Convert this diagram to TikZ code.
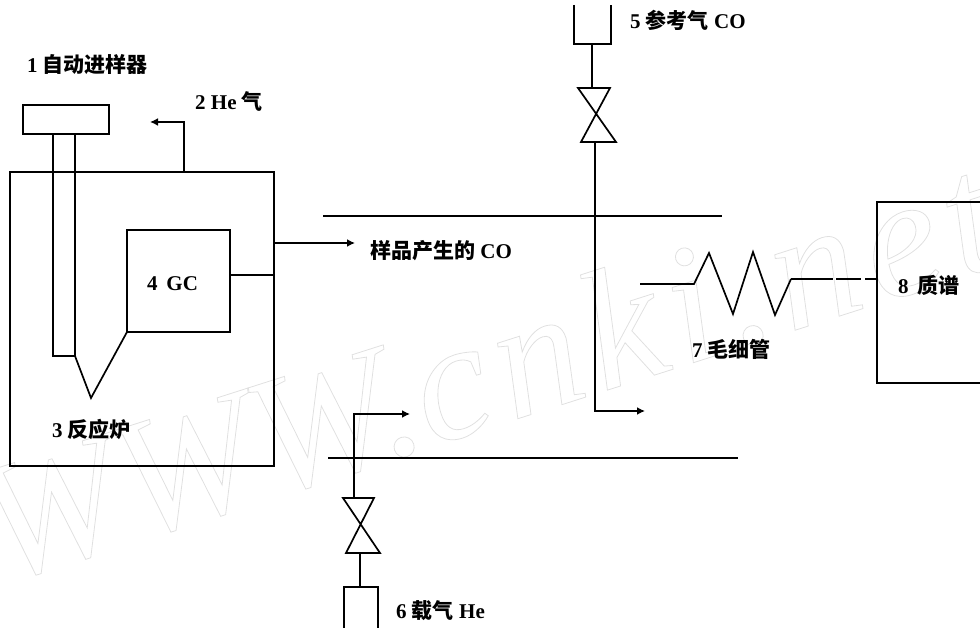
\documentclass[tikz,border=0pt]{standalone}
\usepackage{fontspec}
\setmainfont{Liberation Serif}
\newfontfamily\cjk{Noto Sans CJK SC}
\usetikzlibrary{arrows.meta}
\tikzset{lab/.style={anchor=base west,inner sep=0pt,font=\fontsize{21}{21}\selectfont\bfseries},
pipe/.style={line width=1.7pt,line join=miter},
flow/.style={pipe,-{Latex[length=8pt,width=8pt]}},
wmark/.style={anchor=base west,inner sep=0pt,rotate=17.7,text=black!12,font=\fontsize{170}{170}\selectfont\itshape}}
\begin{document}
\begin{tikzpicture}[x=1pt,y=-1pt]
  \useasboundingbox (0,0) rectangle (980,628);
  \node[wmark] (wm) at (0,584) {\special{pdf:code 1 Tr 0.8 w}WWW.{\addfontfeature{LetterSpace=6}cnki.net}\special{pdf:code 0 Tr}};
  % autosampler and furnace
  \coordinate (s1) at (23,105);
  \coordinate (s2) at (109,134);
  \coordinate (t1) at (53,134);
  \coordinate (t2) at (53,356);
  \coordinate (t3) at (75,356);
  \coordinate (t4) at (75,134);
  \coordinate (tip) at (91,398);
  \coordinate (f1) at (10,172);
  \coordinate (f2) at (274,466);
  \coordinate (g1) at (127,230);
  \coordinate (g2) at (230,332);
  \coordinate (g3) at (127,332);
  \coordinate (g4) at (230,275);
  \coordinate (g5) at (274,275);
  \coordinate (he1) at (184,172);
  \coordinate (he2) at (184,122);
  \coordinate (he3) at (150,122);
  \coordinate (co1) at (274,243);
  \coordinate (co2) at (355,243);
  \draw[pipe] (s1) rectangle (s2);
  \draw[pipe] (t1) -- (t2) -- (t3) -- (t4);
  \draw[pipe] (f1) rectangle (f2);
  \draw[pipe] (g1) rectangle (g2);
  \draw[pipe] (t3) -- (tip) -- (g3);
  \draw[pipe] (g4) -- (g5);
  \draw[flow] (he1) -- (he2) -- (he3);
  \draw[flow] (co1) -- (co2);
  % open split lines
  \coordinate (a1) at (323,216);
  \coordinate (a2) at (722,216);
  \coordinate (b1) at (328,458);
  \coordinate (b2) at (738,458);
  \draw[pipe] (a1) -- (a2);
  \draw[pipe] (b1) -- (b2);
  % reference gas
  \coordinate (r1) at (574,5);
  \coordinate (r2) at (574,44);
  \coordinate (r3) at (611,44);
  \coordinate (r4) at (611,5);
  \coordinate (r5) at (592,44);
  \coordinate (r6) at (592,88);
  \coordinate (v1) at (578,88);
  \coordinate (v2) at (610,88);
  \coordinate (v3) at (581,142);
  \coordinate (v4) at (616,142);
  \coordinate (r7) at (595,142);
  \coordinate (r8) at (595,411);
  \coordinate (r9) at (645,411);
  \draw[pipe] (r1) -- (r2) -- (r3) -- (r4);
  \draw[pipe] (r5) -- (r6);
  \draw[pipe] (v1) -- (v2) -- (v3) -- (v4) -- cycle;
  \draw[flow] (r7) -- (r8) -- (r9);
  % carrier gas
  \coordinate (c1) at (344,628);
  \coordinate (c2) at (344,587);
  \coordinate (c3) at (378,587);
  \coordinate (c4) at (378,628);
  \coordinate (c5) at (360,587);
  \coordinate (c6) at (360,553);
  \coordinate (w1) at (343,498);
  \coordinate (w2) at (374,498);
  \coordinate (w3) at (346,553);
  \coordinate (w4) at (380,553);
  \coordinate (c7) at (354,498);
  \coordinate (c8) at (354,414);
  \coordinate (c9) at (410,414);
  \draw[pipe] (c1) -- (c2) -- (c3) -- (c4);
  \draw[pipe] (c5) -- (c6);
  \draw[pipe] (w1) -- (w2) -- (w3) -- (w4) -- cycle;
  \draw[flow] (c7) -- (c8) -- (c9);
  % capillary and mass spec
  \coordinate (k0) at (640,284);
  \coordinate (k1) at (694,284);
  \coordinate (k2) at (709,253);
  \coordinate (k3) at (733,314);
  \coordinate (k4) at (753,252);
  \coordinate (k5) at (775,315);
  \coordinate (k6) at (791,279);
  \coordinate (m0) at (877,279);
  \coordinate (m1) at (980,202);
  \coordinate (m2) at (877,202);
  \coordinate (m3) at (877,383);
  \coordinate (m4) at (980,383);
  \draw[pipe] (k0) -- (k1) -- (k2) -- (k3) -- (k4) -- (k5) -- (k6);
  \draw[pipe,dash pattern=on 42pt off 3pt on 25pt off 4pt on 12pt] (k6) -- (m0);
  \draw[pipe] (m1) -- (m2) -- (m3) -- (m4);
  % labels
  \node[lab] (l1) at (27,73) {1 {\cjk 自动进样器}};
  \node[lab] (l2) at (195,110) {2 He {\cjk 气}};
  \node[lab] (l3) at (52,437) {3 {\cjk 反应炉}};
  \node[lab] (l4) at (147,291) {4\, GC};
  \node[lab] (l5) at (630,29) {5 {\cjk 参考气} CO};
  \node[lab] (l6) at (396,618) {6 {\cjk 载气} He};
  \node[lab] (l7) at (692,357) {7 {\cjk 毛细管}};
  \node[lab] (l8) at (898,294) {8\, {\cjk 质谱}};
  \node[lab] (l9) at (370,259) {{\cjk 样品产生的} CO};
\end{tikzpicture}
\end{document}
